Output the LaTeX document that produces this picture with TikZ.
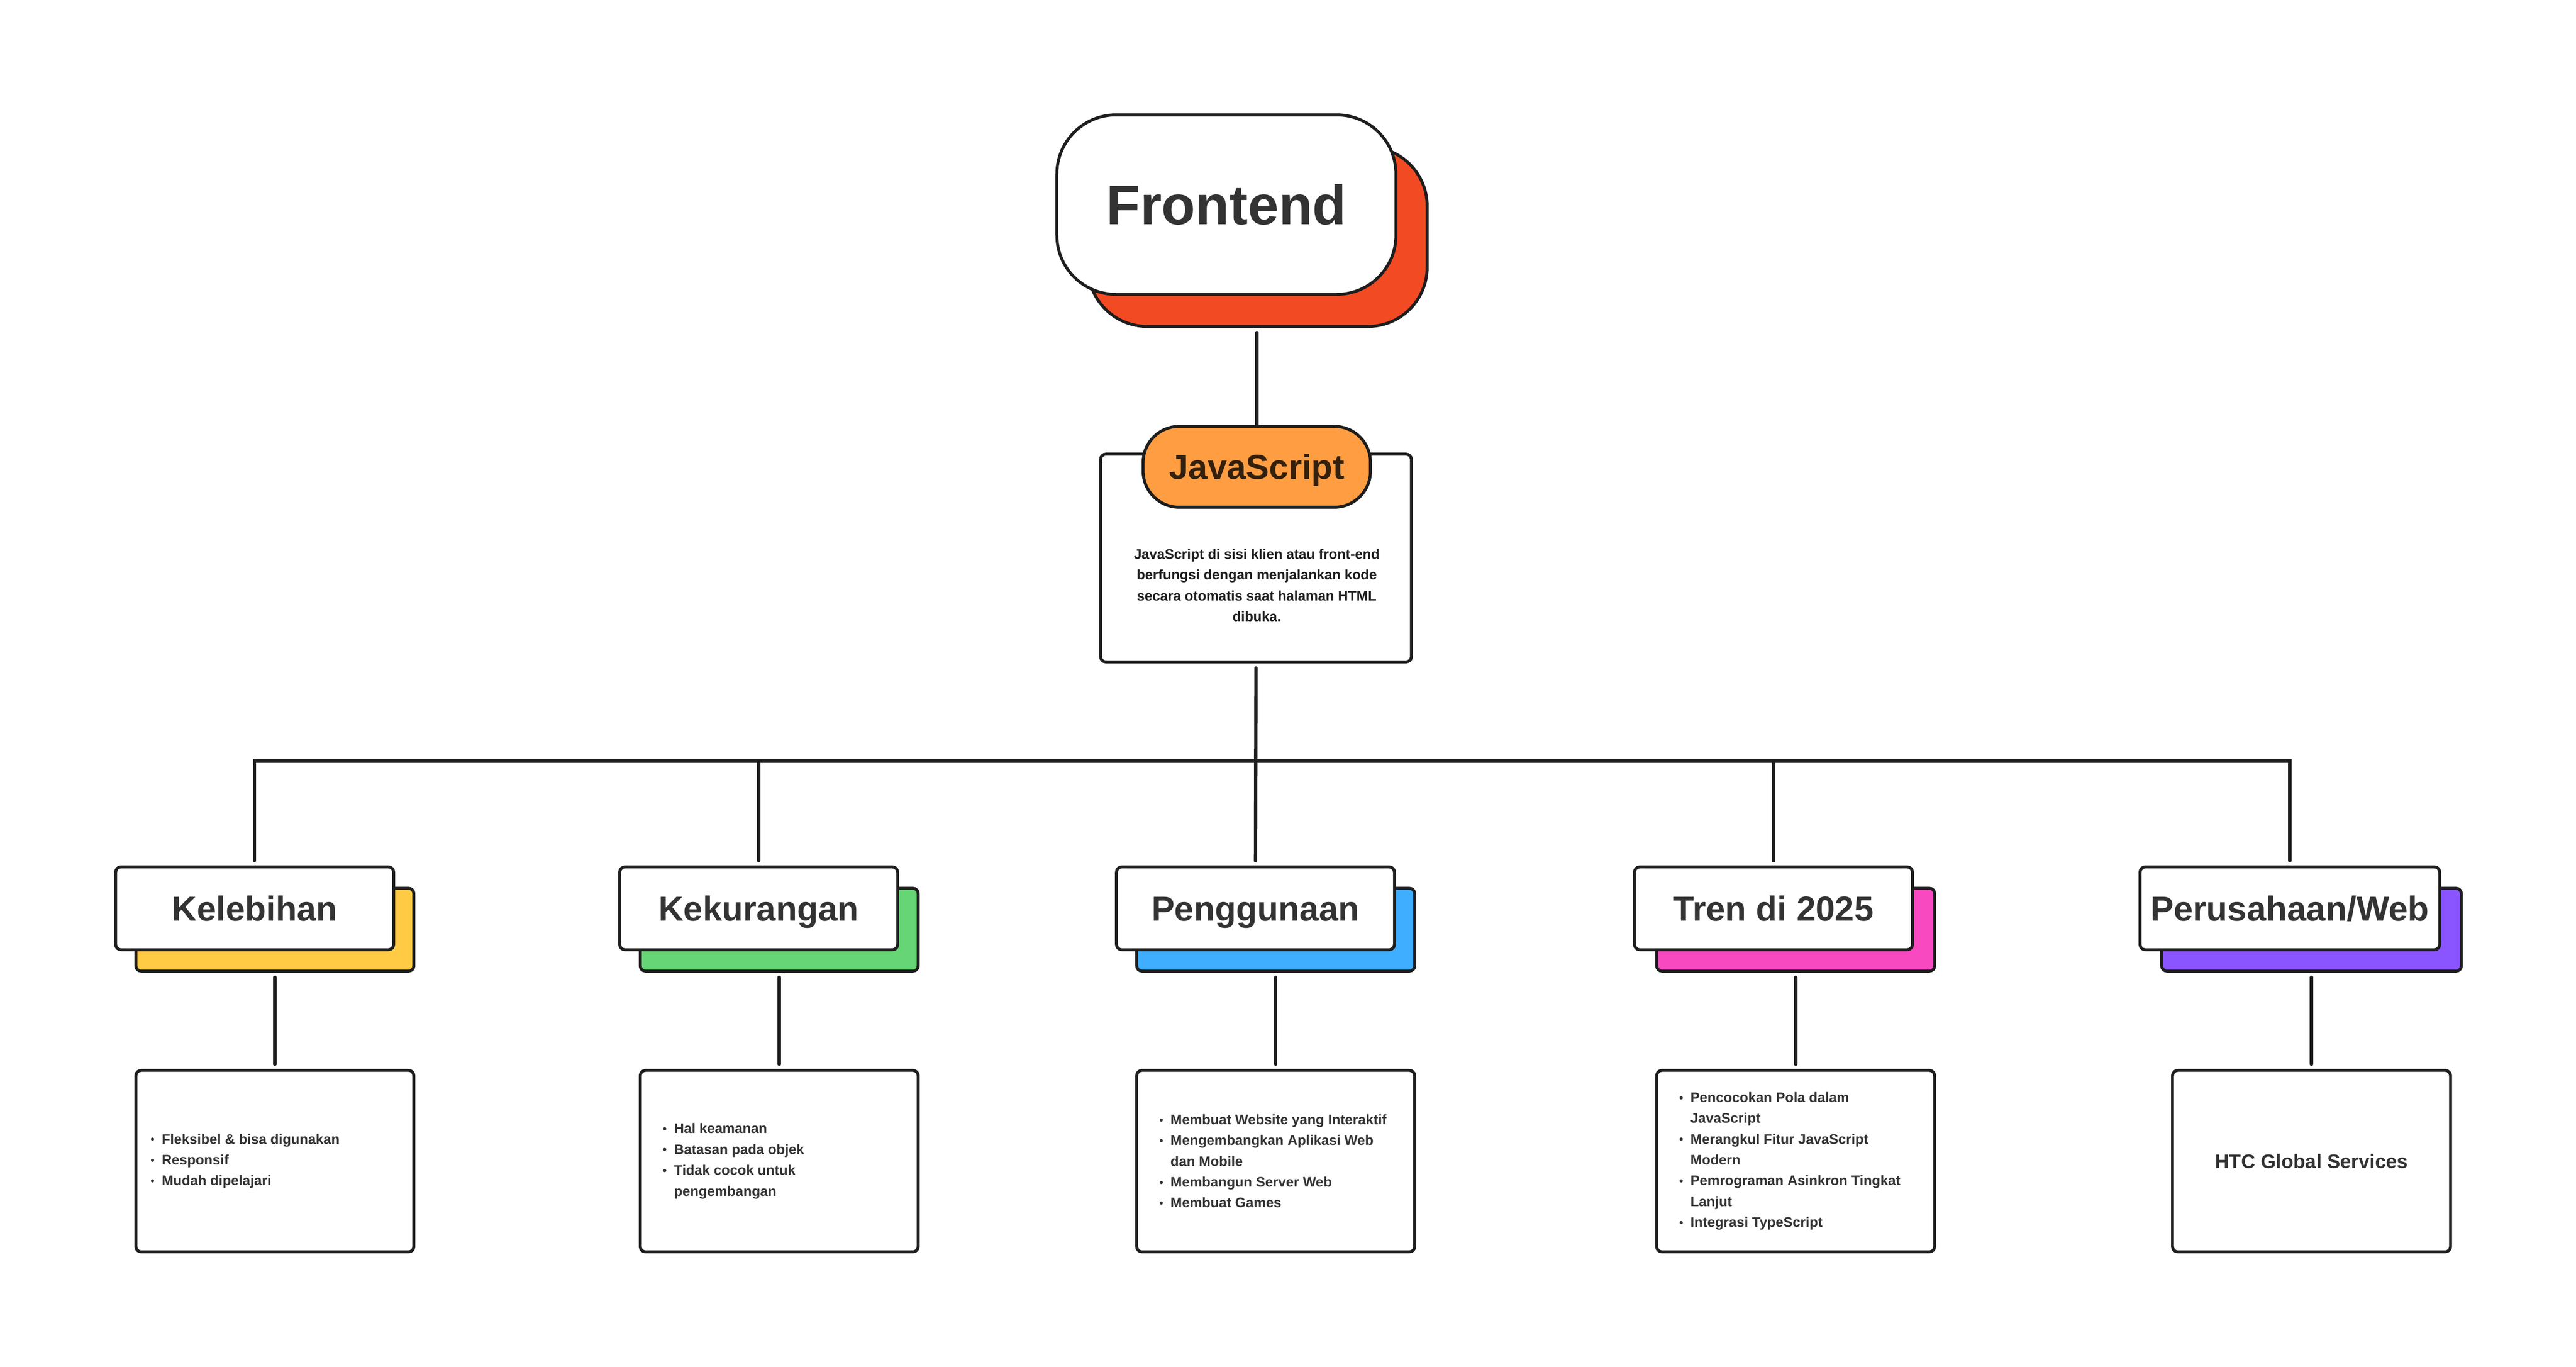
\documentclass[tikz,border=0pt]{standalone}
\usepackage{fontspec}
\setmainfont{Liberation Sans}
\usetikzlibrary{positioning}

\definecolor{ink}{HTML}{1E1E1E}
\definecolor{txt}{HTML}{333333}
\definecolor{jstxt}{HTML}{33200D}
\definecolor{redC}{HTML}{F24A23}
\definecolor{orangeC}{HTML}{FE9D42}
\definecolor{yellowC}{HTML}{FFCB45}
\definecolor{greenC}{HTML}{66D575}
\definecolor{blueC}{HTML}{3FAEFF}
\definecolor{pinkC}{HTML}{F849C1}
\definecolor{purpleC}{HTML}{8A55FF}

\newcommand{\bul}{\makebox[1.7mm][l]{\raisebox{0.1ex}{\scalebox{0.8}{\textbullet}}}}
\newcommand{\cnt}{\hspace*{1.7mm}}

\tikzset{
	conn/.style={draw=ink, line width=0.5mm, line cap=round, shorten <=0.7mm, shorten >=0.7mm},
	card/.style={draw=ink, line width=0.45mm, rounded corners=0.8mm, fill=white},
	headbox/.style={card, minimum width=42.3mm, minimum height=12.6mm, text=txt, text height=10.8pt, text depth=0pt, font=\fontsize{15}{18}\selectfont\bfseries},
	headshadow/.style={card, fill=#1, minimum width=42.3mm, minimum height=12.6mm},
	bodybox/.style={card, minimum width=42.3mm, minimum height=27.6mm},
	listtext/.style={anchor=west, inner sep=0pt, align=left, text=txt, font=\fontsize{6}{9}\selectfont\bfseries}
}

\begin{document}
\begin{tikzpicture}[x=0.25mm, y=-0.25mm]
	\useasboundingbox (0,0) rectangle (1568,831.5);
	
	% Root node
	\node [card, fill=redC, minimum width=51.6mm, minimum height=27.3mm, rounded corners=9mm] (frontShadow) at (765.5,144) {};
	\node [card, minimum width=51.6mm, minimum height=27.3mm, rounded corners=9mm, text=txt, text height=17.3pt, text depth=0pt, font=\fontsize{24}{28}\selectfont\bfseries] (front) at (746.5,124.5) {Frontend};
	
	% JavaScript card
	\node [card, minimum width=47.3mm, minimum height=31.6mm] (jsBox) at (764.5,339.5) {};
	\node [card, fill=orangeC, minimum width=34.6mm, minimum height=12.3mm, rounded corners=5.5mm, text=jstxt, text height=10.8pt, text depth=0pt, font=\fontsize{15}{18}\selectfont\bfseries] (jsPill) at (765,284) {JavaScript};
	\node [align=center, inner sep=0pt, text=ink, font=\fontsize{6}{9}\selectfont\bfseries] (jsDesc) at (765,356) {JavaScript di sisi klien atau front-end\\ berfungsi dengan menjalankan kode\\ secara otomatis saat halaman HTML\\ dibuka.};
	
	% Heading shadows
	\node [headshadow=yellowC] (kelShadow) at (167.3,565.6) {};
	\node [headshadow=greenC] (kekShadow) at (474.3,565.6) {};
	\node [headshadow=blueC] (penShadow) at (776.5,565.6) {};
	\node [headshadow=pinkC] (trenShadow) at (1093,565.6) {};
	\node [headshadow=purpleC, minimum width=45.6mm] (webShadow) at (1407,565.6) {};
	
	% Headings
	\node [headbox] (kel) at (155,552.6) {Kelebihan};
	\node [headbox] (kek) at (461.8,552.6) {Kekurangan};
	\node [headbox] (pen) at (764.2,552.6) {Penggunaan};
	\node [headbox] (tren) at (1079.5,552.6) {Tren di 2025};
	\node [headbox, minimum width=45.6mm] (web) at (1393.8,552.6) {Perusahaan/Web};
	
	% Detail boxes
	\node [bodybox, below=14.65mm of kelShadow] (kelBody) {};
	\node [bodybox, below=14.65mm of kekShadow] (kekBody) {};
	\node [bodybox, below=14.65mm of penShadow] (penBody) {};
	\node [bodybox, below=14.65mm of trenShadow] (trenBody) {};
	\node [bodybox, below=14.65mm of webShadow, text=txt, font=\fontsize{8.5}{10}\selectfont\bfseries] (webBody) {HTC Global Services};
	
	% Lists
	\node [listtext, xshift=2.4mm] (kelList) at (kelBody.west) {\bul Fleksibel \& bisa digunakan\\ \bul Responsif\\ \bul Mudah dipelajari};
	\node [listtext, xshift=3.6mm] (kekList) at (kekBody.west) {\bul Hal keamanan\\ \bul Batasan pada objek\\ \bul Tidak cocok untuk\\ \cnt pengembangan};
	\node [listtext, xshift=3.6mm] (penList) at (penBody.west) {\bul Membuat Website yang Interaktif\\ \bul Mengembangkan Aplikasi Web\\ \cnt dan Mobile\\ \bul Membangun Server Web\\ \bul Membuat Games};
	\node [listtext, xshift=3.6mm] (trenList) at (trenBody.west) {\bul Pencocokan Pola dalam\\ \cnt JavaScript\\ \bul Merangkul Fitur JavaScript\\ \cnt Modern\\ \bul Pemrograman Asinkron Tingkat\\ \cnt Lanjut\\ \bul Integrasi TypeScript};
	
	% Connectors
	\coordinate (bar) at (764.5,463);
	\draw [conn, shorten >=0pt] (jsPill.north |- frontShadow.south) -- (jsPill.north);
	\draw [conn] (jsBox.south) -- (pen.north);
	\draw [conn] (kel.north) |- (bar) -| (web.north);
	\draw [conn, shorten <=0pt] (bar) -| (kek.north);
	\draw [conn, shorten <=0pt] (bar) -| (tren.north);
	\draw [conn] (kelShadow.south) -- (kelBody.north);
	\draw [conn] (kekShadow.south) -- (kekBody.north);
	\draw [conn] (penShadow.south) -- (penBody.north);
	\draw [conn] (trenShadow.south) -- (trenBody.north);
	\draw [conn] (webShadow.south) -- (webBody.north);
\end{tikzpicture}
\end{document}
